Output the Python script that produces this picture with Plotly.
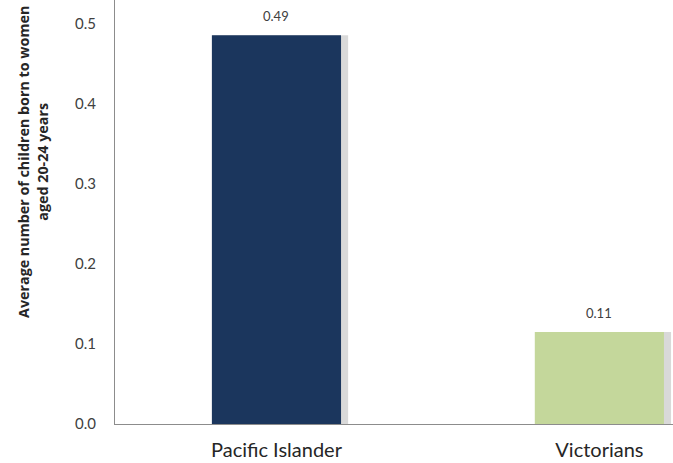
import plotly.graph_objects as go

categories = ["Pacific Islander", "Victorians"]
values = [0.486, 0.115]
value_labels = ["0.49", "0.11"]
bar_colors = ["#1B365D", "#C4D79B"]
y_ticks = [0.0, 0.1, 0.2, 0.3, 0.4, 0.5]
y_tick_labels = ["0.0", "0.1", "0.2", "0.3", "0.4", "0.5"]

fig = go.Figure()
# soft shadow behind bars
fig.add_trace(go.Bar(
    x=categories, y=values, width=0.42, offset=-0.198,
    marker=dict(color="rgba(0,0,0,0.15)", line=dict(width=0)),
    hoverinfo="skip", showlegend=False,
))
fig.add_trace(go.Bar(
    x=categories, y=values, width=0.40, offset=-0.2,
    marker=dict(color=bar_colors, line=dict(width=0)),
    showlegend=False,
))

annotations = [
    dict(x=c, y=v, text=t, xref="x", yref="y", showarrow=False,
         yanchor="bottom", yshift=9,
         font=dict(size=13, color="#404040", family="Lato"))
    for c, v, t in zip(categories, values, value_labels)
]
annotations.append(dict(
    text="<b>Average number of children born to women<br>aged 20-24 years</b>",
    textangle=-90, xref="paper", yref="paper",
    x=-0.147, y=0.618, xanchor="center", yanchor="middle",
    showarrow=False, font=dict(size=14.3, color="#262626", family="Open Sans"),
))

fig.update_layout(
    width=673, height=463,
    margin=dict(l=115, r=0, t=0, b=39),
    paper_bgcolor="white", plot_bgcolor="white",
    barmode="overlay",
    font=dict(family="Lato", color="#404040"),
    xaxis=dict(
        range=[-0.5, 1.228], showgrid=False, showline=True,
        linecolor="#8C8C8C", linewidth=1, ticks="",
        tickfont=dict(size=20, color="#262626"), ticklabelstandoff=8,
    ),
    yaxis=dict(
        range=[0, 0.53], tickvals=y_ticks, ticktext=y_tick_labels,
        showgrid=False, showline=True, linecolor="#8C8C8C", linewidth=1,
        ticks="", tickfont=dict(size=15, color="#404040"), ticklabelstandoff=15,
        zeroline=False,
    ),
    annotations=annotations,
)

fig.write_html("out.html")
